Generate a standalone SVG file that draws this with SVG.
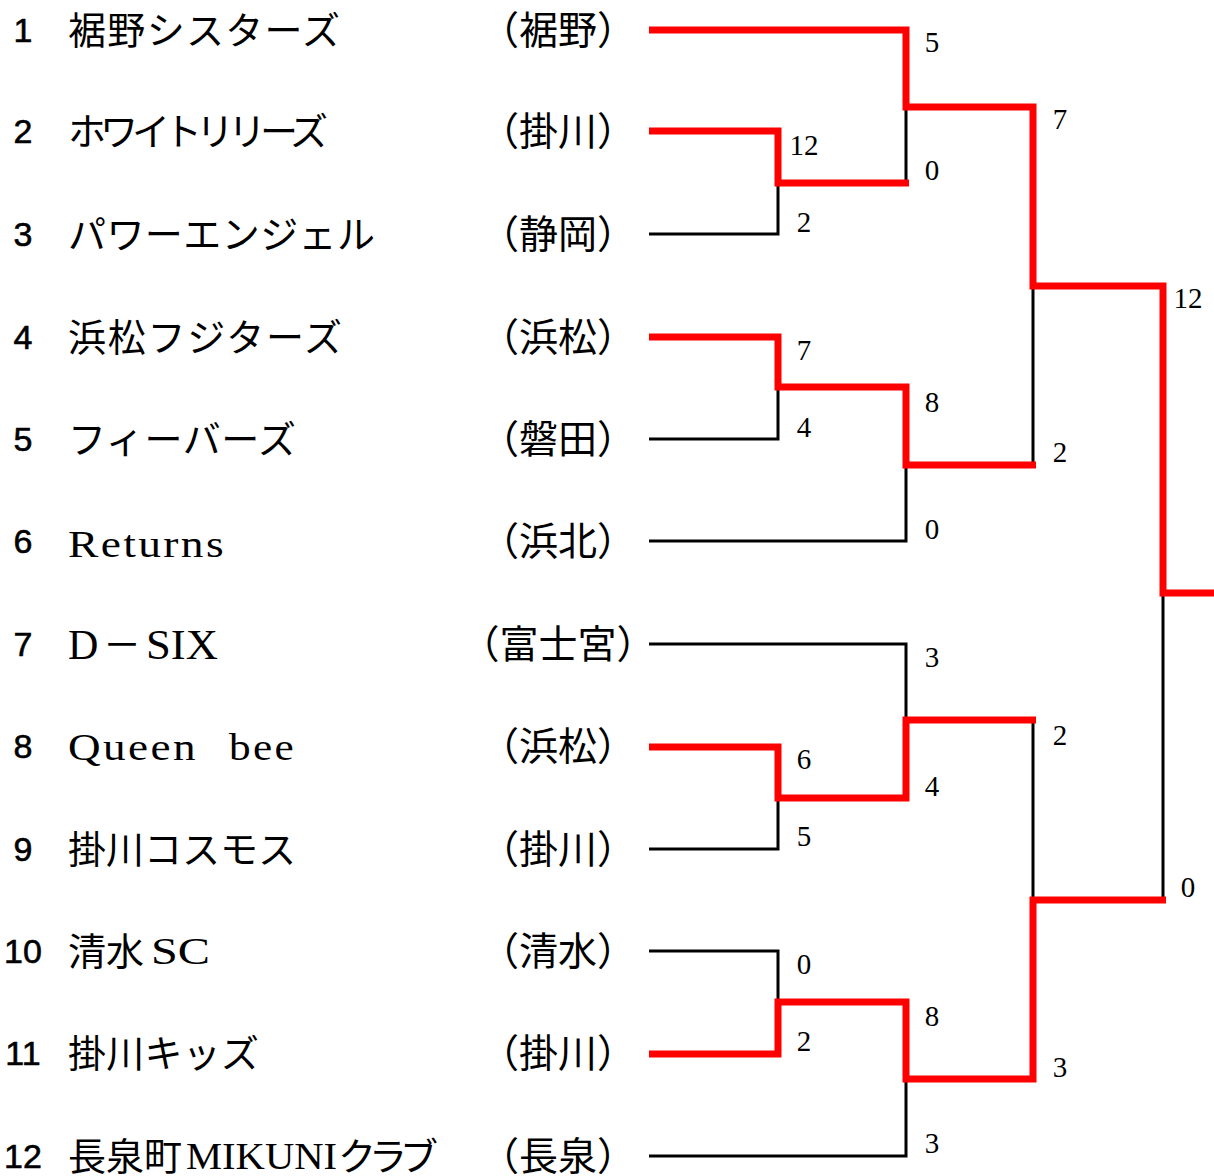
<svg xmlns="http://www.w3.org/2000/svg" width="1214" height="1176" viewBox="0 0 1214 1176">
<style>
.seed{font-family:"Liberation Sans",Arial,sans-serif;font-size:34px;fill:#000;stroke:#000;stroke-width:0.6;text-anchor:middle}
.name{font-family:"Liberation Serif","Noto Sans CJK JP",serif;font-size:38px;fill:#000}
.lat{font-family:"Liberation Serif","Times New Roman",serif;fill:#000}
.aff{font-family:"Liberation Serif","Noto Sans CJK JP",serif;font-size:39px;fill:#000;text-anchor:middle}
.score{font-family:"Liberation Serif","Times New Roman",serif;font-size:29px;fill:#000;text-anchor:middle}
.blk{fill:none;stroke:#000;stroke-width:3}
.red{fill:none;stroke:#ff0000;stroke-width:7;stroke-linejoin:miter}
</style>
<rect width="1214" height="1176" fill="#fff"/>
<g id="connectors">
<path class="blk" d="M649,234 H778 V183"/>
<path class="blk" d="M906,107 V183"/>
<path class="blk" d="M649,439 H778 V387"/>
<path class="blk" d="M649,541 H906 V465"/>
<path class="blk" d="M1033,286 V465"/>
<path class="blk" d="M649,644 H906 V720"/>
<path class="blk" d="M649,849 H778 V798"/>
<path class="blk" d="M649,951 H778 V1002"/>
<path class="blk" d="M649,1156 H906 V1079"/>
<path class="blk" d="M1033,720 V900"/>
<path class="blk" d="M1163,593 V900"/>
<path class="red" d="M649,30 H906 V107 H1033 V286 H1163 V593 H1214"/>
<path class="red" d="M649,131 H778 V183 H909"/>
<path class="red" d="M649,337 H778 V387 H906 V465 H1036"/>
<path class="red" d="M649,747 H778 V798 H906 V720 H1036"/>
<path class="red" d="M649,1054 H778 V1002 H906 V1079 H1033 V900 H1166"/>
</g>
<g id="scores">
<text class="score" x="932" y="52">5</text>
<text class="score" x="804" y="155">12</text>
<text class="score" x="932" y="180">0</text>
<text class="score" x="804" y="232">2</text>
<text class="score" x="1060" y="129">7</text>
<text class="score" x="804" y="360">7</text>
<text class="score" x="804" y="437">4</text>
<text class="score" x="932" y="412">8</text>
<text class="score" x="932" y="539">0</text>
<text class="score" x="1060" y="462">2</text>
<text class="score" x="1188" y="308">12</text>
<text class="score" x="932" y="667">3</text>
<text class="score" x="1060" y="745">2</text>
<text class="score" x="804" y="769">6</text>
<text class="score" x="932" y="796">4</text>
<text class="score" x="804" y="846">5</text>
<text class="score" x="804" y="974">0</text>
<text class="score" x="804" y="1051">2</text>
<text class="score" x="932" y="1026">8</text>
<text class="score" x="1060" y="1077">3</text>
<text class="score" x="932" y="1153">3</text>
<text class="score" x="1188" y="897">0</text>
</g>
<g id="team1"><text class="seed" x="23" y="42">1</text><text class="name" x="68" y="44" textLength="272" lengthAdjust="spacing">裾野シスターズ</text><text class="aff" x="558" y="44">（裾野）</text></g>
<g id="team2"><text class="seed" x="23" y="143">2</text><text class="name" x="68" y="145" textLength="260" lengthAdjust="spacing">ホワイトリリーズ</text><text class="aff" x="558" y="145">（掛川）</text></g>
<g id="team3"><text class="seed" x="23" y="246">3</text><text class="name" x="68" y="248" textLength="307" lengthAdjust="spacing">パワーエンジェル</text><text class="aff" x="558" y="248">（静岡）</text></g>
<g id="team4"><text class="seed" x="23" y="349">4</text><text class="name" x="68" y="351" textLength="274" lengthAdjust="spacing">浜松フジターズ</text><text class="aff" x="558" y="351">（浜松）</text></g>
<g id="team5"><text class="seed" x="23" y="451">5</text><text class="name" x="68" y="453" textLength="228" lengthAdjust="spacing">フィーバーズ</text><text class="aff" x="558" y="453">（磐田）</text></g>
<g id="team6"><text class="seed" x="23" y="553">6</text><text class="lat" x="68" y="557" font-size="38" letter-spacing="2" textLength="158" lengthAdjust="spacingAndGlyphs">Returns</text><text class="aff" x="558" y="555">（浜北）</text></g>
<g id="team7"><text class="seed" x="23" y="656">7</text><text class="lat" x="68" y="659" font-size="42">D</text><text class="name" x="103" y="658" font-size="40">－</text><text class="lat" x="146" y="659" font-size="42" textLength="72" lengthAdjust="spacingAndGlyphs">SIX</text><text class="aff" x="558" y="658">（富士宮）</text></g>
<g id="team8"><text class="seed" x="23" y="758">8</text><text class="lat" x="68" y="760" font-size="37" letter-spacing="2" textLength="130" lengthAdjust="spacingAndGlyphs">Queen</text><text class="lat" x="229" y="760" font-size="37" letter-spacing="2" textLength="67" lengthAdjust="spacingAndGlyphs">bee</text><text class="aff" x="558" y="760">（浜松）</text></g>
<g id="team9"><text class="seed" x="23" y="861">9</text><text class="name" x="68" y="863" textLength="228" lengthAdjust="spacing">掛川コスモス</text><text class="aff" x="558" y="863">（掛川）</text></g>
<g id="team10"><text class="seed" x="23" y="963">10</text><text class="name" x="68" y="965">清水</text><text class="lat" x="151" y="964" font-size="37" textLength="59" lengthAdjust="spacingAndGlyphs">SC</text><text class="aff" x="558" y="965">（清水）</text></g>
<g id="team11"><text class="seed" x="23" y="1065">11</text><text class="name" x="68" y="1067" textLength="191" lengthAdjust="spacing">掛川キッズ</text><text class="aff" x="558" y="1067">（掛川）</text></g>
<g id="team12"><text class="seed" x="23" y="1168">12</text><text class="name" x="68" y="1170">長泉町</text><text class="lat" x="186" y="1169" font-size="37" textLength="151" lengthAdjust="spacingAndGlyphs">MIKUNI</text><text class="name" x="338" y="1170" textLength="100" lengthAdjust="spacing">クラブ</text><text class="aff" x="558" y="1170">（長泉）</text></g>
</svg>
